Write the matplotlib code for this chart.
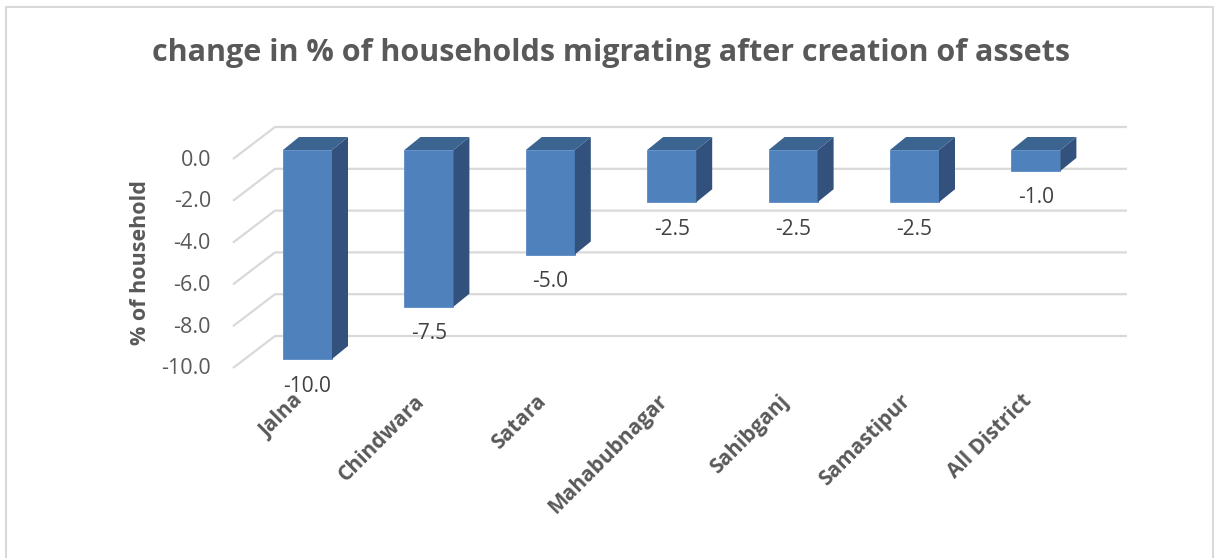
import matplotlib
matplotlib.use("Agg")
import matplotlib.pyplot as plt
from matplotlib.patches import Polygon
from matplotlib.lines import Line2D

plt.rcParams['font.family'] = ['Open Sans', 'DejaVu Sans']

# ---- data ----
districts = ["Jalna", "Chindwara", "Satara", "Mahabubnagar", "Sahibganj",
             "Samastipur", "All District"]
change_pct = [-10.0, -7.5, -5.0, -2.5, -2.5, -2.5, -1.0]
y_ticks = [0.0, -2.0, -4.0, -6.0, -8.0, -10.0]
title = "change in % of households migrating after creation of assets"
y_label = "% of household"

# ---- layout (pixels of a 1215x558 canvas) ----
W, H = 1215, 558
X0_PX, STEP_PX = 307.5, 121.4      # centre of first column, column spacing
ZERO_PX, UNIT_PX = 150.0, 20.9     # y pixel of value 0, pixels per unit

def px_x(px):
    return (px - X0_PX) / STEP_PX

def px_dy(dpx):
    return dpx / UNIT_PX

fig = plt.figure(figsize=(W / 100, H / 100), dpi=100)
ax = fig.add_axes([0, 0, 1, 1])
ax.set_xlim(px_x(0), px_x(W))
ax.set_ylim((ZERO_PX - H) / UNIT_PX, ZERO_PX / UNIT_PX)
ax.axis("off")

grid_col = "#d9d9d9"
front_col = "#4f81bd"
side_col = "#32527d"
top_col = "#3c6491"

# floor/wall geometry for the 3-D look
front_left = px_x(233)
back_left = px_x(275)
back_right = px_x(1127)
front_dy = -px_dy(9)
back_dy = px_dy(23)

for v in y_ticks:
    ax.plot([front_left, back_left, back_right],
            [v + front_dy, v + back_dy, v + back_dy],
            color=grid_col, lw=1.6, zorder=1, solid_capstyle="butt")
    ax.text(px_x(211), v + front_dy - px_dy(1), f"{v:.1f}",
            ha="right", va="center", fontsize=15.5, color="#595959")

# columns: front face, right side and top
width = 49 / STEP_PX
bdx = 16 / STEP_PX
bdy = px_dy(13)
xs = list(range(len(districts)))
ax.bar(xs, change_pct, width=width, color=front_col, zorder=3,
       edgecolor="#5a8ac4", linewidth=0.6)
for x, v in zip(xs, change_pct):
    xl, xr = x - width / 2, x + width / 2
    ax.add_patch(Polygon([(xr, 0), (xr + bdx, bdy), (xr + bdx, v + bdy), (xr, v)],
                         closed=True, facecolor=side_col, edgecolor="none", zorder=3))
    ax.add_patch(Polygon([(xl, 0), (xl + bdx, bdy), (xr + bdx, bdy), (xr, 0)],
                         closed=True, facecolor=top_col, edgecolor="none", zorder=3))
    ax.text(x, v - px_dy(27), f"{v:.1f}", ha="center", va="center",
            fontsize=15, color="#404040", zorder=4)
    ax.text(x - 0.06, (ZERO_PX - 398) / UNIT_PX, districts[x], rotation=45,
            rotation_mode="anchor", ha="right", va="center",
            fontsize=15, fontweight="bold", color="#595959")

ax.text(px_x(141), (ZERO_PX - 263) / UNIT_PX, y_label, rotation=90,
        ha="center", va="center", fontsize=15.5, fontweight="bold", color="#595959")

fig.text(611 / W, 1 - 53 / H, title, ha="center", va="center",
         fontsize=22, fontweight="bold", color="#595959")

# chart frame
fig.add_artist(Line2D([6 / W, 6 / W, 1213 / W, 1213 / W],
                      [0, 1 - 7 / H, 1 - 7 / H, 0],
                      transform=fig.transFigure, color=grid_col, lw=1.5))

fig.savefig("out.png", dpi=100)
